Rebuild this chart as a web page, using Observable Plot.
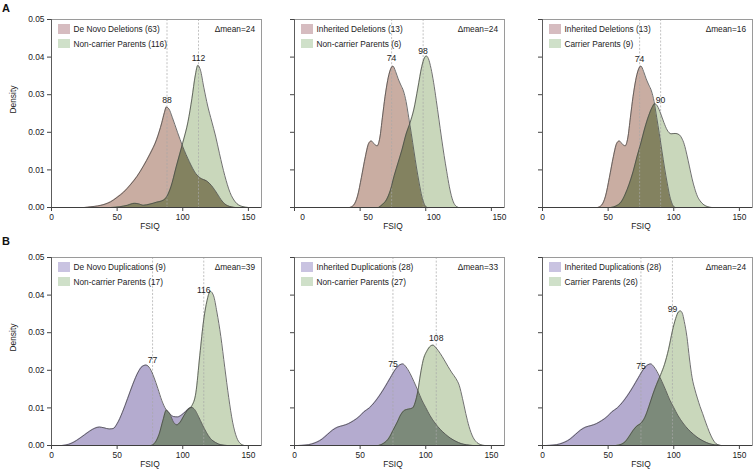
<!DOCTYPE html>
<html><head><meta charset="utf-8">
<script src="https://cdn.jsdelivr.net/npm/d3@7"></script>
<script src="https://cdn.jsdelivr.net/npm/@observablehq/plot@0.6"></script>
<style>
body{margin:0;background:#fff;}
#fig{position:relative;width:756px;height:473px;font-family:"Liberation Sans",Arial,Helvetica,sans-serif;overflow:hidden;background:#fff;}
#fig svg{position:absolute;}
.lt{position:absolute;font-size:8.3px;line-height:10px;color:#222;white-space:nowrap;}
.sw{position:absolute;width:12px;height:9.5px;}
.pl{position:absolute;font-weight:bold;font-size:11px;color:#111;}
</style></head><body><div id="fig"></div><script>
// ---- density curves: [FSIQ, density] ----
const delDeNovo = [[25,0],[30,0.0002],[35,0.0004],[40,0.0008],[45,0.0015],[50,0.0027],[55,0.0041],[60,0.0060],[65,0.0082],[70,0.0110],[75,0.0142],[80,0.0180],[84,0.0225],[86,0.0252],[87.5,0.0267],[89.5,0.0262],[92,0.0240],[96,0.0200],[100,0.0162],[105,0.0122],[110,0.0090],[114,0.0077],[118,0.0071],[122,0.0058],[126,0.0038],[130,0.0017],[134,0.0005],[140,0]];
const delNonCarrierA = [[45,0],[52,0.0002],[58,0.0006],[63,0.0011],[66,0.0010],[70,0.0006],[75,0.0009],[80,0.0014],[85,0.0019],[88,0.0030],[91,0.0055],[95,0.0108],[100,0.0172],[104,0.0228],[107,0.0290],[109.5,0.0350],[111.5,0.0378],[113.5,0.0365],[116,0.0320],[119,0.0270],[122,0.0230],[125,0.0190],[128,0.0143],[132,0.0085],[136,0.0040],[140,0.0015],[145,0.0003],[150,0]];
const delInherited = [[42,0],[45,0.0006],[48,0.0030],[51,0.0080],[54,0.0135],[56.5,0.0170],[58.5,0.0177],[61,0.0168],[63,0.0164],[65,0.0185],[67,0.0240],[69,0.0295],[71,0.0338],[73,0.0366],[75,0.0376],[77,0.0362],[79,0.0342],[81,0.0326],[83,0.0310],[85,0.0282],[87,0.0240],[89,0.0196],[91,0.0150],[93,0.0105],[95,0.0065],[97,0.0030],[99,0.0008],[101,0]];
const delNonCarrierB = [[64,0],[67,0.0008],[70,0.0020],[73,0.0045],[76,0.0085],[79,0.0120],[82,0.0155],[85,0.0195],[88,0.0225],[91,0.0262],[94,0.0318],[97,0.0375],[99,0.0398],[100.5,0.0403],[102,0.0396],[104,0.0370],[106,0.0332],[108,0.0285],[110,0.0235],[112,0.0185],[114,0.0138],[116,0.0095],[118,0.0055],[120,0.0025],[122,0.0008],[125,0]];
const delCarrier = [[52,0],[56,0.0004],[60,0.0015],[63,0.0035],[66,0.0062],[69,0.0095],[72,0.0135],[75,0.0172],[78,0.0212],[81,0.0245],[83.5,0.0266],[85.5,0.0276],[87.5,0.0270],[90,0.0250],[92.5,0.0226],[95,0.0206],[98,0.0196],[101,0.0197],[104,0.0194],[106,0.0185],[108,0.0168],[110,0.0140],[112,0.0108],[114,0.0076],[116,0.0050],[118,0.0030],[120,0.0018],[123,0.0007],[126,0.0002],[129,0]];
const dupDeNovo = [[8,0],[13,0.0003],[17,0.0009],[21,0.0018],[25,0.0028],[29,0.0038],[33,0.0046],[36.5,0.0049],[40,0.0047],[44,0.0044],[47,0.0045],[50,0.0058],[54,0.0088],[58,0.0125],[62,0.0163],[66,0.0195],[69,0.0210],[72,0.0214],[75,0.0205],[78,0.0182],[81,0.0152],[84,0.0120],[87,0.0097],[90,0.0085],[93,0.0077],[96,0.0076],[99,0.0081],[102,0.0090],[105,0.0099],[107,0.0101],[109,0.0096],[112,0.0077],[115,0.0055],[118,0.0035],[121,0.0019],[125,0.0008],[129,0.0002],[134,0]];
const dupNonCarrierA = [[76,0],[79,0.0008],[82,0.0030],[85,0.0068],[87.5,0.0094],[90,0.0085],[93,0.0062],[95.5,0.0055],[98,0.0062],[101,0.0080],[104,0.0096],[107,0.0106],[110,0.0140],[113,0.0240],[116,0.0335],[118.5,0.0385],[121,0.0410],[123.5,0.0398],[126,0.0355],[129,0.0290],[132,0.0208],[135,0.0128],[138,0.0062],[141,0.0022],[144,0.0005],[147,0]];
const dupInherited = [[3,0],[8,0.0001],[13,0.0004],[17,0.0009],[21,0.0017],[25,0.0029],[29,0.0041],[33,0.0049],[37,0.0053],[41,0.0058],[45,0.0066],[49,0.0076],[53,0.0090],[57,0.0100],[61,0.0115],[65,0.0134],[69,0.0156],[73,0.0180],[77,0.0203],[80,0.0214],[82.5,0.0217],[85,0.0209],[88,0.0192],[91,0.0170],[94,0.0146],[97,0.0121],[100,0.0101],[103,0.0081],[107,0.0060],[111,0.0043],[115,0.0030],[119,0.0019],[123,0.0011],[127,0.0005],[131,0.0002],[136,0]];
const dupNonCarrierB = [[64,0],[68,0.0006],[72,0.0020],[75,0.0040],[78,0.0060],[81,0.0082],[84,0.0094],[87,0.0097],[90,0.0100],[92,0.0115],[94,0.0145],[96,0.0190],[98,0.0226],[101,0.0252],[103.5,0.0264],[105.5,0.0267],[108,0.0259],[111,0.0245],[114,0.0228],[117,0.0210],[120,0.0193],[123,0.0178],[125.5,0.0160],[128,0.0125],[130.5,0.0085],[133,0.0050],[136,0.0022],[139,0.0008],[142,0.0002],[145,0]];
const dupCarrier = [[56,0],[60,0.0003],[63,0.0010],[66,0.0024],[69,0.0040],[72,0.0052],[75,0.0059],[78,0.0075],[81,0.0103],[84,0.0135],[87,0.0163],[90,0.0188],[93,0.0216],[96,0.0255],[99,0.0305],[101.5,0.0338],[103.5,0.0355],[105,0.0358],[106.5,0.0352],[108,0.0330],[110,0.0290],[112,0.0230],[114,0.0180],[116,0.0150],[118,0.0126],[120,0.0104],[122,0.0085],[124.5,0.0060],[127,0.0037],[130,0.0015],[133,0.0003],[136,0]];

// ---- panel contents ----
const carrierCurves = [delDeNovo, delInherited, delInherited, dupDeNovo, dupInherited, dupInherited];
const parentCurves = [delNonCarrierA, delNonCarrierB, delCarrier, dupNonCarrierA, dupNonCarrierB, dupCarrier];
const carrierLegend = ["De Novo Deletions (63)", "Inherited Deletions (13)", "Inherited Deletions (13)", "De Novo Duplications (9)", "Inherited Duplications (28)", "Inherited Duplications (28)"];
const parentLegend = ["Non-carrier Parents (116)", "Non-carrier Parents (6)", "Carrier Parents (9)", "Non-carrier Parents (17)", "Non-carrier Parents (27)", "Carrier Parents (26)"];
const carrierMean = [88, 74, 74, 77, 75, 75];
const parentMean = [112, 98, 90, 116, 108, 99];
const deltaMean = [24, 24, 16, 39, 33, 24];
const carrierMeanLabelY = [0.0285, 0.0396, 0.0394, 0.0227, 0.0217, 0.0211];
const parentMeanLabelY = [0.0396, 0.0416, 0.0285, 0.0412, 0.0286, 0.0362];
const xTicks = [0, 50, 100, 150];
const yTicks = [0, 0.01, 0.02, 0.03, 0.04, 0.05];
const rowLetters = ["A", "B"];

// ---- styling / layout ----
const FONT = '"Liberation Sans", Arial, Helvetica, sans-serif';
const colLeft = [51, 294, 542], rowTop = [19, 257];
const FW = 210, FH = 188;
const xLabelShift = [0, 8, 0, 0, 0, 0];
const colors = {
  del: "#c9ada2", dup: "#b4abcf", parent: "#c9d7bb",
  ovDel: "#838260", ovDup: "#7c8a7a",
  swDel: "#d6bcc0", swDup: "#c9c3e1", swParent: "#cfe0c9",
  outline: "#4a4a4a"
};
const fig = document.getElementById("fig");
const NS = "http://www.w3.org/2000/svg";

function panel(i) {
  const row = i < 3 ? 0 : 1, col = i % 3;
  const fL = colLeft[col], fT = rowTop[row];
  const mL = col === 0 ? 51 : 14, mR = 4, mT = 8, mB = 30;
  const fill1 = row === 0 ? colors.del : colors.dup;
  const c1 = carrierCurves[i], c2 = parentCurves[i];
  const X = d => d[0], Y = d => d[1];
  const shift = xLabelShift[i];
  const marks = [
    Plot.areaY(c1, {x: X, y: Y, fill: fill1, curve: "monotone-x"}),
    Plot.areaY(c2, {x: X, y: Y, fill: colors.parent, curve: "monotone-x"}),
    Plot.ruleX([carrierMean[i], parentMean[i]], {stroke: "#a8a8a8", strokeWidth: 0.7, strokeDasharray: "2,1.6"}),
    Plot.line(c1, {x: X, y: Y, stroke: colors.outline, strokeWidth: 0.8, curve: "monotone-x"}),
    Plot.line(c2, {x: X, y: Y, stroke: colors.outline, strokeWidth: 0.8, curve: "monotone-x"}),
    Plot.frame({stroke: "#9a9a9a", strokeWidth: 1}),
    Plot.ruleY([0], {stroke: "#333", strokeWidth: 0.9}),
    Plot.ruleX([0], {stroke: "#555", strokeWidth: 0.9}),
    Plot.axisY({ticks: yTicks, label: null, tickSize: 4, tickPadding: 3, stroke: "#444", tickFormat: col === 0 ? (d => d.toFixed(2)) : (() => "")}),
    shift ? Plot.axisX({ticks: xTicks, label: null, tickSize: 4, stroke: "#444", tickFormat: () => ""}) : null,
    Plot.axisX({ticks: xTicks, label: null, tickSize: shift ? 0 : 4, tickPadding: shift ? 6.5 : 2.5, dx: shift, stroke: "#444"}),
    Plot.text([{x: 75, t: "FSIQ"}], {x: "x", text: "t", frameAnchor: "bottom", dy: 21, fill: "#222"}),
    Plot.text([{x: carrierMean[i], y: carrierMeanLabelY[i], t: String(carrierMean[i])}, {x: parentMean[i], y: parentMeanLabelY[i], t: String(parentMean[i])}], {x: "x", y: "y", text: "t", fill: "#222", fontSize: 8.6})
  ];
  if (col === 0) marks.push(Plot.text(["Density"], {frameAnchor: "left", dx: -38, rotate: -90, fill: "#222"}));
  const svg = Plot.plot({
    width: mL + FW + mR, height: mT + FH + mB,
    marginLeft: mL, marginRight: mR, marginTop: mT, marginBottom: mB,
    x: {domain: [0, 160], axis: null},
    y: {domain: [0, 0.05], axis: null},
    style: {fontFamily: FONT, fontSize: "8.4px", color: "#222", background: "transparent", overflow: "visible"},
    marks: marks.filter(Boolean)
  });
  // overlap region: parent area clipped to the carrier area
  const areaGs = svg.querySelectorAll('g[aria-label="area"]');
  if (areaGs.length >= 2) {
    const p1 = areaGs[0].querySelector("path"), p2 = areaGs[1].querySelector("path");
    const defs = document.createElementNS(NS, "defs");
    const cp = document.createElementNS(NS, "clipPath");
    cp.setAttribute("id", "ov" + i);
    const cpp = document.createElementNS(NS, "path");
    cpp.setAttribute("d", p1.getAttribute("d"));
    cp.appendChild(cpp); defs.appendChild(cp);
    svg.insertBefore(defs, svg.firstChild);
    const ov = p2.cloneNode(false);
    ov.setAttribute("fill", row === 0 ? colors.ovDel : colors.ovDup);
    ov.setAttribute("clip-path", "url(#ov" + i + ")");
    areaGs[1].appendChild(ov);
  }
  svg.style.left = (fL - mL) + "px";
  svg.style.top = (fT - mT) + "px";
  fig.appendChild(svg);

  // legend + delta mean
  const sw1 = document.createElement("div"); sw1.className = "sw";
  sw1.style.left = (fL + 7) + "px"; sw1.style.top = (fT + 5.3) + "px";
  sw1.style.background = row === 0 ? colors.swDel : colors.swDup; fig.appendChild(sw1);
  const sw2 = document.createElement("div"); sw2.className = "sw";
  sw2.style.left = (fL + 7) + "px"; sw2.style.top = (fT + 19.8) + "px";
  sw2.style.background = colors.swParent; fig.appendChild(sw2);
  const t1 = document.createElement("div"); t1.className = "lt"; t1.textContent = carrierLegend[i];
  t1.style.left = (fL + 22.5) + "px"; t1.style.top = (fT + 5) + "px"; fig.appendChild(t1);
  const t2 = document.createElement("div"); t2.className = "lt"; t2.textContent = parentLegend[i];
  t2.style.left = (fL + 22.5) + "px"; t2.style.top = (fT + 19.5) + "px"; fig.appendChild(t2);
  const dm = document.createElement("div"); dm.className = "lt"; dm.textContent = "\u0394mean=" + deltaMean[i];
  dm.style.right = (756 - (fL + FW - 6)) + "px"; dm.style.top = (fT + 5) + "px"; fig.appendChild(dm);
}
for (let i = 0; i < 6; i++) panel(i);
rowLetters.forEach((L, r) => {
  const d = document.createElement("div"); d.className = "pl"; d.textContent = L;
  d.style.left = "2px"; d.style.top = (r === 0 ? 2 : 235) + "px"; fig.appendChild(d);
});
</script></body></html>
